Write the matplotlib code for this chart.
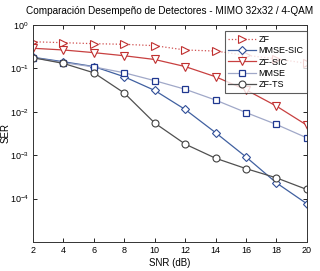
import matplotlib
matplotlib.use("Agg")
import matplotlib.pyplot as plt

# SNR points (dB)
snr = [2, 4, 6, 8, 10, 12, 14, 16, 18, 20]

# Symbol error rate per detector
ser_zf = [0.41, 0.39, 0.37, 0.358, 0.333, 0.265, 0.25, 0.20, 0.165, 0.13]
ser_mmse_sic = [0.18, 0.142, 0.11, 0.064, 0.031, 0.0113, 0.0033, 0.00091, 0.00023, 7.6e-5]
ser_zf_sic = [0.29, 0.265, 0.23, 0.195, 0.16, 0.11, 0.064, 0.032, 0.0135, 0.0049]
ser_mmse = [0.176, 0.135, 0.108, 0.079, 0.052, 0.033, 0.0186, 0.0096, 0.0051, 0.0025]
ser_zf_ts = [0.176, 0.13, 0.079, 0.027, 0.0055, 0.0018, 0.00085, 0.00049, 0.0003, 0.000162]

yticks = [1e-4, 1e-3, 1e-2, 1e-1, 1e0]

plt.rcParams["font.family"] = ["Liberation Sans", "DejaVu Sans"]
plt.rcParams["font.size"] = 7

fig = plt.figure(figsize = (3.2, 2.71), dpi = 100)
ax = fig.add_axes([0.103, 0.107, 0.856, 0.801])

# Draw the curves
ax.semilogy(snr, ser_zf, color = "#d05050", linestyle = ":", linewidth = 0.9, marker = ">", markersize = 6, markerfacecolor = "white", markeredgecolor = "#c03030", markeredgewidth = 0.8, label = "ZF")
ax.semilogy(snr, ser_mmse_sic, color = "#4060a0", linestyle = "-", linewidth = 0.9, marker = "D", markersize = 4, markerfacecolor = "white", markeredgecolor = "#304e98", markeredgewidth = 0.8, label = "MMSE-SIC")
ax.semilogy(snr, ser_zf_sic, color = "#c84040", linestyle = "-", linewidth = 0.9, marker = "v", markersize = 6, markerfacecolor = "white", markeredgecolor = "#c03030", markeredgewidth = 0.8, label = "ZF-SIC")
ax.semilogy(snr, ser_mmse, color = "#a0a8c8", linestyle = "-", linewidth = 0.9, marker = "s", markersize = 4, markerfacecolor = "white", markeredgecolor = "#203890", markeredgewidth = 0.9, label = "MMSE")
ax.semilogy(snr, ser_zf_ts, color = "#505050", linestyle = "-", linewidth = 0.9, marker = "o", markersize = 5, markerfacecolor = "white", markeredgecolor = "#404040", markeredgewidth = 0.8, label = "ZF-TS")

# Axes settings
ax.set_xlim(2, 20)
ax.set_ylim(1e-5, 1)
ax.set_xticks(snr)
ax.set_yticks(yticks)
ax.minorticks_off()
ax.tick_params(direction = "in", top = True, right = True, length = 3, width = 0.6, labelsize = 6.5, pad = 3)
for s in ax.spines.values():
	s.set_linewidth(0.7)
	s.set_color("#333333")
ax.set_xlabel("SNR (dB)", fontsize = 7, labelpad = 2)
ax.set_ylabel("SER", fontsize = 7)
ax.yaxis.set_label_coords(-0.082, 0.5)
ax.set_title("Comparación Desempeño de Detectores - MIMO 32x32 / 4-QAM", fontsize = 7.2, pad = 8)

leg = ax.legend(loc = "upper right", bbox_to_anchor = (1.0, 0.97), fontsize = 6.5, frameon = True, fancybox = False, edgecolor = "#333333", handlelength = 3, borderpad = 0.4, labelspacing = 0.25, handletextpad = 0.3, borderaxespad = 0.0)
leg.get_frame().set_linewidth(0.8)

plt.savefig("out.png", dpi = 100)
